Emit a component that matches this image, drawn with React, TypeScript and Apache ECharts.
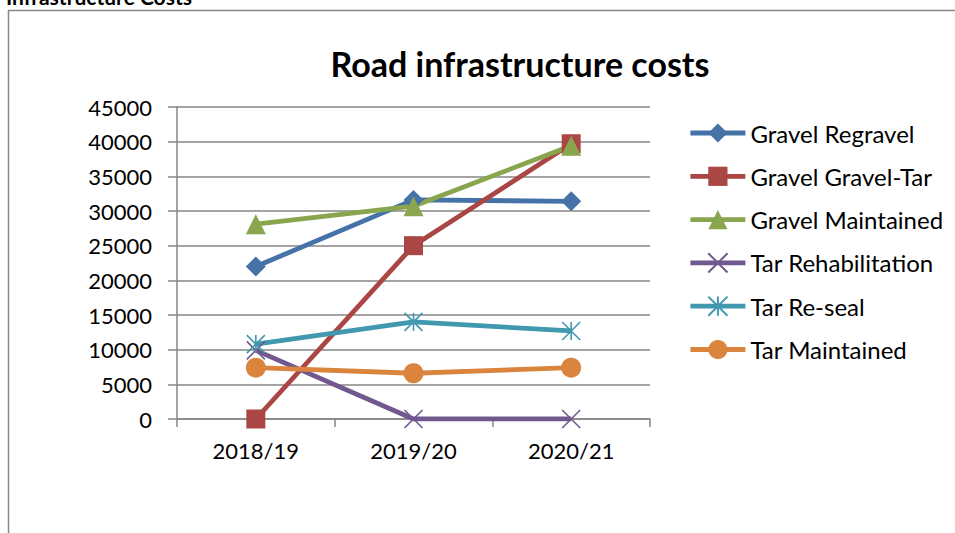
import React, { useEffect, useRef } from "react";
import * as echarts from "echarts";

const categories = ["2018/19", "2019/20", "2020/21"];
const gravelRegravel = [22000, 31600, 31400];
const gravelGravelTar = [0, 25000, 39700];
const gravelMaintained = [28100, 30700, 39400];
const tarRehabilitation = [9900, 0, 0];
const tarReseal = [10800, 14000, 12700];
const tarMaintained = [7400, 6600, 7400];

const FONT = "Lato, 'Open Sans', sans-serif";
const X_PATH = "path://M0 0 L10 10 M10 0 L0 10";
const STAR_PATH = "path://M0 0 L10 10 M10 0 L0 10 M5 0 L5 10";

export default function App() {
  const ref = useRef<HTMLDivElement>(null);
  useEffect(() => {
    document.body.style.margin = "0";
    const chart = echarts.init(ref.current!, undefined, { renderer: "svg" });
    const mk = (name: string, data: number[], color: string, symbol: string, size: number, stroke = false) => ({
      name,
      type: "line",
      data,
      symbol,
      symbolSize: size,
      lineStyle: { color, width: 4.8 },
      itemStyle: stroke
        ? { color: "rgba(0,0,0,0)", borderColor: color, borderWidth: 1.6 }
        : { color, borderWidth: 0 },
      emphasis: { disabled: true },
    });
    chart.setOption({
      animation: false,
      backgroundColor: "#fff",
      textStyle: { fontFamily: FONT },
      graphic: [
        {
          type: "rect",
          shape: { x: 8.5, y: 10.5, width: 1000, height: 600 },
          style: { fill: "none", stroke: "#868686", lineWidth: 1.5 },
          silent: true,
        },
        {
          type: "text",
          x: 6,
          y: 7,
          style: {
            text: "Infrastructure Costs",
            font: `bold 21px ${FONT}`,
            fill: "#000",
            textVerticalAlign: "bottom",
          },
          silent: true,
        },
      ],
      title: {
        text: "Road infrastructure costs",
        left: 520,
        textAlign: "center",
        top: 46,
        padding: 0,
        textStyle: { fontFamily: FONT, fontWeight: "bold", fontSize: 34, color: "#000" },
      },
      legend: {
        orient: "vertical",
        left: 688,
        top: 121,
        padding: 0,
        itemWidth: 55,
        itemHeight: 24,
        itemGap: 19.3,
        lineStyle: { width: 4.8 },
        textStyle: { fontFamily: FONT, fontSize: 24, lineHeight: 24, color: "#000" },
        data: [
          "Gravel Regravel",
          "Gravel Gravel-Tar",
          "Gravel Maintained",
          "Tar Rehabilitation",
          "Tar Re-seal",
          "Tar Maintained",
        ],
      },
      grid: { left: 177, right: 305, top: 107, bottom: 114 },
      xAxis: {
        type: "category",
        data: categories,
        boundaryGap: true,
        axisLine: { lineStyle: { color: "#868686", width: 1.5 } },
        axisTick: { show: true, length: 8, lineStyle: { color: "#868686", width: 1.5 } },
        axisLabel: { color: "#000", fontSize: 22, fontFamily: FONT, margin: 20 },
      },
      yAxis: {
        type: "value",
        min: 0,
        max: 45000,
        interval: 5000,
        axisLine: { show: true, lineStyle: { color: "#868686", width: 1.5 } },
        axisTick: { show: true, length: 9, lineStyle: { color: "#868686", width: 1.5 } },
        splitLine: { lineStyle: { color: "#868686", width: 1.5 } },
        axisLabel: {
          color: "#000",
          fontSize: 22,
          fontFamily: FONT,
          margin: 25,
          formatter: (v: number) => String(v),
        },
      },
      series: [
        mk("Gravel Regravel", gravelRegravel, "#4572A7", "diamond", 20),
        mk("Gravel Gravel-Tar", gravelGravelTar, "#AA4643", "rect", 19),
        mk("Gravel Maintained", gravelMaintained, "#89A54E", "triangle", 20),
        mk("Tar Rehabilitation", tarRehabilitation, "#71588F", X_PATH, 18, true),
        mk("Tar Re-seal", tarReseal, "#4198AF", STAR_PATH, 18, true),
        mk("Tar Maintained", tarMaintained, "#DB843D", "circle", 20),
      ],
    });
    return () => chart.dispose();
  }, []);
  return <div ref={ref} style={{ width: 955, height: 533 }} />;
}
